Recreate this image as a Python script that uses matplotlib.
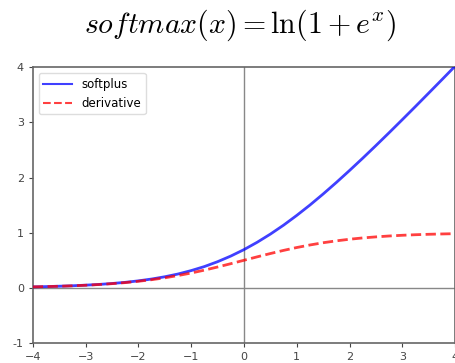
import matplotlib
matplotlib.use("Agg")
import matplotlib.pyplot as plt

x_vals = [-4.0, -3.75, -3.5, -3.25, -3.0, -2.75, -2.5, -2.25, -2.0, -1.75, -1.5, -1.25,
          -1.0, -0.75, -0.5, -0.25, 0.0, 0.25, 0.5, 0.75, 1.0, 1.25, 1.5, 1.75,
          2.0, 2.25, 2.5, 2.75, 3.0, 3.25, 3.5, 3.75, 4.0]
softplus_vals = [0.018, 0.023, 0.030, 0.038, 0.049, 0.062, 0.079, 0.100, 0.127, 0.160, 0.201, 0.251,
                 0.313, 0.386, 0.474, 0.576, 0.693, 0.826, 0.974, 1.136, 1.313, 1.501, 1.701, 1.910,
                 2.127, 2.350, 2.579, 2.812, 3.049, 3.288, 3.530, 3.773, 4.018]
derivative_vals = [0.018, 0.023, 0.029, 0.037, 0.047, 0.060, 0.076, 0.095, 0.119, 0.148, 0.182, 0.223,
                   0.269, 0.321, 0.378, 0.438, 0.500, 0.562, 0.622, 0.679, 0.731, 0.777, 0.818, 0.852,
                   0.881, 0.905, 0.924, 0.940, 0.953, 0.963, 0.971, 0.977, 0.982]
x_ticks = [-4, -3, -2, -1, 0, 1, 2, 3, 4]
y_ticks = [-1, 0, 1, 2, 3, 4]

plt.rcParams['mathtext.fontset'] = 'cm'
fig = plt.figure(figsize=(4.56, 3.63), dpi=100)
ax = fig.add_axes([0.072, 0.055, 0.926, 0.76])

ax.axhline(0, color='#888888', linewidth=1.0, zorder=1)
ax.axvline(0, color='#888888', linewidth=1.0, zorder=1)
ax.plot(x_vals, softplus_vals, color='blue', alpha=0.75, linewidth=2, label='softplus', zorder=3)
ax.plot(x_vals, derivative_vals, color='red', alpha=0.75, linewidth=2, linestyle='--', label='derivative', zorder=3)

ax.set_xlim(-4, 4)
ax.set_ylim(-1, 4)
ax.set_xticks(x_ticks)
ax.set_yticks(y_ticks)
ax.set_yticklabels([str(t) for t in y_ticks])
ax.tick_params(labelsize=8, colors='#444444', length=3)
for s in ax.spines.values():
    s.set_color('#666666')
    s.set_linewidth(1.2)

leg = ax.legend(loc='upper left', fontsize=8.5, framealpha=1, edgecolor='#dddddd',
                handlelength=2.4, borderaxespad=0.5)
for h in leg.get_lines():
    h.set_linewidth(1.5)
fig.text(0.526, 0.93, r'$softmax(x) = \ln(1+e^x)$', ha='center', va='center', fontsize=21.5)

fig.savefig('out.png', dpi=100)
